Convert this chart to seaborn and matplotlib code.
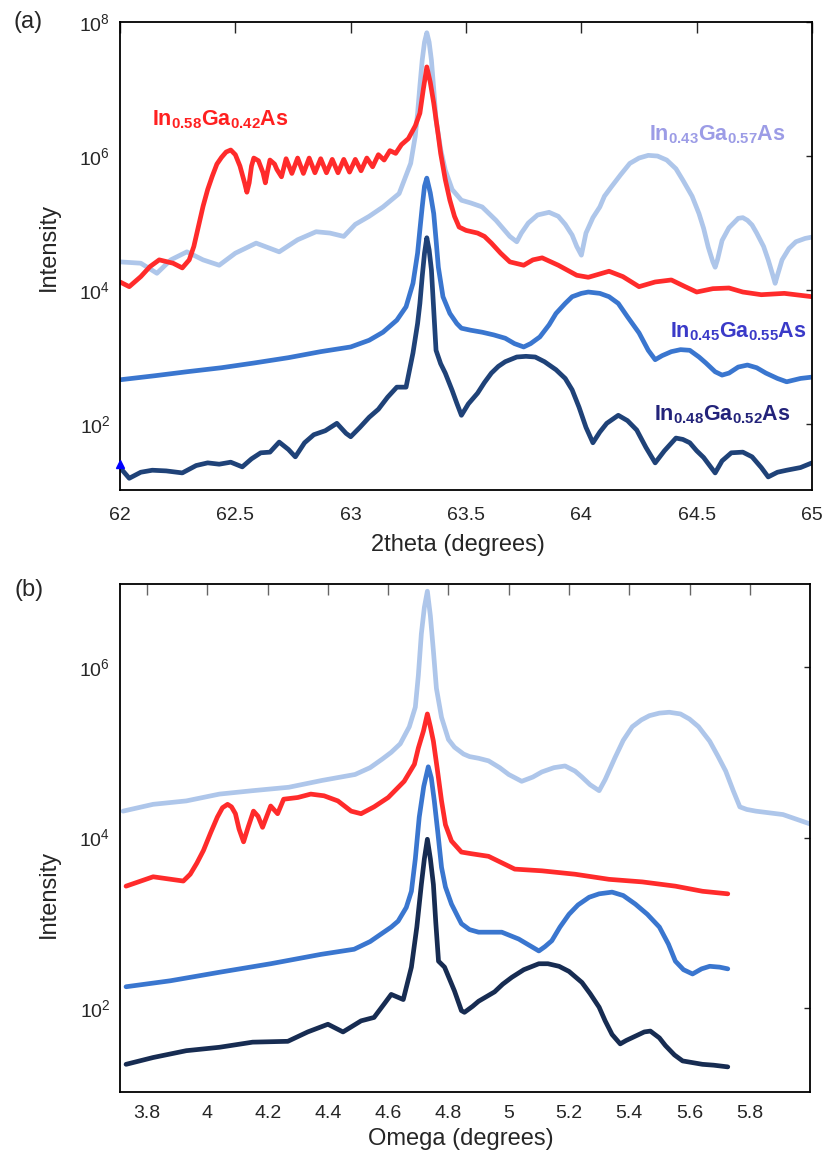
import numpy as np
import matplotlib
matplotlib.use("Agg")
import matplotlib.pyplot as plt
import seaborn as sns
from matplotlib.ticker import FixedLocator, NullLocator

sns.set_style("white")
plt.rcParams['font.family'] = ['Liberation Sans', 'DejaVu Sans']
plt.rcParams['mathtext.fontset'] = 'custom'
plt.rcParams['mathtext.rm'] = 'Liberation Sans'
plt.rcParams['mathtext.bf'] = 'Liberation Sans:bold'

# ---------------- Panel (a): 2theta scans (log10 intensity) ----------------
a_x_043 = [62.00, 62.09, 62.16, 62.22, 62.29, 62.36, 62.43, 62.50, 62.59, 62.69, 62.77, 62.85, 62.91,
           62.97, 63.02, 63.08, 63.14, 63.21, 63.26, 63.28, 63.29, 63.30, 63.31, 63.32, 63.33, 63.34,
           63.35, 63.36, 63.37, 63.39, 63.41, 63.44, 63.48, 63.52, 63.57, 63.60, 63.63, 63.66, 63.69,
           63.72, 63.74, 63.77, 63.81, 63.86, 63.90, 63.93, 63.96, 63.98, 64.00, 64.02, 64.05, 64.08,
           64.10, 64.13, 64.17, 64.21, 64.25, 64.29, 64.33, 64.37, 64.41, 64.44, 64.48, 64.51, 64.53,
           64.55, 64.57, 64.58, 64.59, 64.61, 64.64, 64.68, 64.70, 64.72, 64.74, 64.76, 64.79, 64.81,
           64.83, 64.84, 64.85, 64.87, 64.90, 64.93, 64.97, 65.00]
a_l_043 = [4.42, 4.40, 4.25, 4.45, 4.57, 4.45, 4.37, 4.55, 4.70, 4.57, 4.75, 4.87, 4.85,
           4.80, 4.98, 5.10, 5.24, 5.44, 5.89, 6.30, 6.64, 7.05, 7.43, 7.70, 7.84, 7.70,
           7.43, 7.00, 6.54, 6.10, 5.79, 5.50, 5.34, 5.30, 5.24, 5.14, 5.04, 4.92, 4.80,
           4.72, 4.85, 5.00, 5.12, 5.16, 5.10, 4.98, 4.82, 4.65, 4.52, 4.85, 5.08, 5.24,
           5.40, 5.54, 5.72, 5.89, 5.97, 6.01, 6.00, 5.94, 5.81, 5.64, 5.40, 5.14, 4.92,
           4.64, 4.42, 4.34, 4.45, 4.74, 4.93, 5.07, 5.08, 5.04, 4.97, 4.85, 4.65, 4.45,
           4.22, 4.10, 4.22, 4.45, 4.62, 4.72, 4.77, 4.79]

a_x_058 = [62.00, 62.04, 62.09, 62.13, 62.17, 62.23, 62.27, 62.30, 62.32, 62.34, 62.36, 62.38, 62.40,
           62.42, 62.44, 62.46, 62.48, 62.50, 62.52, 62.54, 62.55, 62.56, 62.57, 62.58, 62.60, 62.62,
           62.63, 62.64, 62.65, 62.67, 62.68, 62.70, 62.72, 62.745, 62.77, 62.795, 62.82, 62.845,
           62.87, 62.895, 62.92, 62.945, 62.97, 62.995, 63.02, 63.045, 63.07, 63.095, 63.12, 63.145,
           63.17, 63.195, 63.22, 63.25, 63.28, 63.30, 63.315, 63.33, 63.345, 63.36, 63.38, 63.39,
           63.41, 63.43, 63.45, 63.47, 63.50, 63.55, 63.58, 63.61, 63.65, 63.69, 63.75, 63.79, 63.83,
           63.90, 63.98, 64.03, 64.12, 64.18, 64.25, 64.32, 64.39, 64.45, 64.50, 64.57, 64.64, 64.70,
           64.78, 64.88, 65.00]
a_l_058 = [4.12, 4.05, 4.20, 4.35, 4.45, 4.40, 4.33, 4.45, 4.65, 4.95, 5.25, 5.50, 5.70,
           5.88, 5.98, 6.06, 6.09, 6.02, 5.85, 5.60, 5.46, 5.60, 5.85, 5.97, 5.93, 5.75,
           5.60, 5.78, 5.94, 5.88, 5.80, 5.69, 5.96, 5.74, 5.97, 5.74, 5.97, 5.75,
           5.96, 5.75, 5.95, 5.75, 5.95, 5.76, 5.95, 5.78, 5.97, 5.84, 6.02, 5.94,
           6.08, 6.04, 6.17, 6.26, 6.45, 6.64, 7.00, 7.33, 7.10, 6.79, 6.30, 6.04,
           5.65, 5.34, 5.10, 4.94, 4.89, 4.85, 4.80, 4.70, 4.55, 4.42, 4.37, 4.45, 4.48,
           4.37, 4.22, 4.19, 4.28, 4.20, 4.05, 4.12, 4.15, 4.05, 3.97, 4.02, 4.03, 3.97,
           3.93, 3.95, 3.90]

a_x_045 = [62.00, 62.15, 62.29, 62.44, 62.58, 62.73, 62.87, 63.00, 63.08, 63.14, 63.20, 63.24, 63.27,
           63.29, 63.30, 63.31, 63.32, 63.33, 63.345, 63.36, 63.37, 63.38, 63.40, 63.43, 63.46, 63.48,
           63.52, 63.57, 63.62, 63.67, 63.71, 63.75, 63.78, 63.82, 63.86, 63.89, 63.93, 63.96, 64.00,
           64.03, 64.08, 64.12, 64.16, 64.20, 64.25, 64.29, 64.32, 64.35, 64.39, 64.43, 64.47, 64.51,
           64.54, 64.58, 64.61, 64.64, 64.68, 64.72, 64.76, 64.80, 64.85, 64.89, 64.95, 65.00]
a_l_045 = [2.66, 2.72, 2.78, 2.84, 2.91, 2.99, 3.08, 3.15, 3.25, 3.37, 3.55, 3.75, 4.10,
           4.55, 4.90, 5.24, 5.55, 5.67, 5.45, 5.14, 4.75, 4.34, 3.90, 3.65, 3.50, 3.43,
           3.40, 3.37, 3.33, 3.28, 3.20, 3.15, 3.20, 3.30, 3.48, 3.65, 3.80, 3.90, 3.95,
           3.97, 3.95, 3.90, 3.80, 3.60, 3.36, 3.10, 2.96, 3.02, 3.08, 3.11, 3.10, 3.00,
           2.91, 2.78, 2.73, 2.76, 2.85, 2.88, 2.84, 2.76, 2.68, 2.63, 2.68, 2.70]

a_x_048 = [62.01, 62.04, 62.09, 62.14, 62.20, 62.27, 62.33, 62.38, 62.43, 62.48, 62.53, 62.57, 62.61,
           62.65, 62.69, 62.73, 62.76, 62.80, 62.84, 62.89, 62.94, 62.98, 63.00, 63.04, 63.08, 63.12,
           63.16, 63.20, 63.24, 63.27, 63.29, 63.30, 63.31, 63.32, 63.33, 63.34, 63.35, 63.36, 63.37,
           63.39, 63.41, 63.44, 63.46, 63.48, 63.51, 63.55, 63.58, 63.61, 63.64, 63.67, 63.72, 63.76,
           63.80, 63.84, 63.89, 63.93, 63.96, 63.99, 64.02, 64.05, 64.08, 64.11, 64.16, 64.20, 64.24,
           64.28, 64.32, 64.36, 64.41, 64.44, 64.47, 64.50, 64.53, 64.58, 64.61, 64.65, 64.70, 64.74,
           64.78, 64.81, 64.85, 64.89, 64.95, 65.00]
a_l_048 = [1.31, 1.19, 1.28, 1.31, 1.30, 1.27, 1.38, 1.42, 1.40, 1.43, 1.36, 1.48, 1.57,
           1.58, 1.73, 1.62, 1.51, 1.72, 1.84, 1.90, 2.01, 1.86, 1.81, 1.95, 2.10, 2.22,
           2.40, 2.55, 2.55, 3.06, 3.50, 3.80, 4.20, 4.55, 4.78, 4.60, 4.30, 3.70, 3.10,
           2.90, 2.76, 2.50, 2.31, 2.13, 2.30, 2.46, 2.62, 2.76, 2.86, 2.93, 3.00, 3.01,
           3.00, 2.93, 2.81, 2.68, 2.51, 2.25, 1.95, 1.72, 1.88, 2.01, 2.13, 2.05, 1.91,
           1.65, 1.42, 1.60, 1.79, 1.77, 1.72, 1.60, 1.50, 1.27, 1.45, 1.57, 1.58, 1.51,
           1.35, 1.21, 1.28, 1.31, 1.35, 1.42]

# ---------------- Panel (b): omega scans (log10 intensity) ----------------
b_x_043 = [3.72, 3.82, 3.93, 4.04, 4.15, 4.27, 4.38, 4.49, 4.54, 4.58, 4.61, 4.64, 4.67, 4.69, 4.70,
           4.71, 4.72, 4.73, 4.74, 4.75, 4.76, 4.777, 4.80, 4.82, 4.85, 4.87, 4.90, 4.933, 4.97, 5.00,
           5.043, 5.08, 5.11, 5.15, 5.187, 5.22, 5.243, 5.27, 5.30, 5.32, 5.353, 5.38, 5.41, 5.44,
           5.467, 5.50, 5.533, 5.57, 5.60, 5.63, 5.667, 5.695, 5.72, 5.745, 5.767, 5.79, 5.82, 5.91,
           6.00]
b_l_043 = [4.31, 4.39, 4.43, 4.51, 4.55, 4.59, 4.67, 4.74, 4.82, 4.92, 5.00, 5.10, 5.30, 5.53, 5.90,
           6.39, 6.70, 6.89, 6.60, 6.19, 5.75, 5.41, 5.15, 5.06, 4.98, 4.95, 4.93, 4.90, 4.82, 4.74,
           4.66, 4.71, 4.77, 4.82, 4.84, 4.78, 4.71, 4.62, 4.55, 4.68, 4.94, 5.14, 5.30, 5.38,
           5.43, 5.46, 5.47, 5.45, 5.39, 5.30, 5.13, 4.95, 4.78, 4.55, 4.36, 4.33, 4.31, 4.27,
           4.16]

b_x_058 = [3.73, 3.82, 3.92, 3.943, 3.965, 3.987, 4.01, 4.033, 4.05, 4.067, 4.08, 4.093, 4.105, 4.12,
           4.135, 4.153, 4.168, 4.183, 4.197, 4.21, 4.233, 4.253, 4.30, 4.343, 4.387, 4.433, 4.477,
           4.51, 4.553, 4.60, 4.653, 4.687, 4.70, 4.717, 4.73, 4.74, 4.75, 4.763, 4.777, 4.79, 4.81,
           4.843, 4.877, 4.933, 5.02, 5.11, 5.22, 5.333, 5.443, 5.553, 5.643, 5.727]
b_l_058 = [3.43, 3.54, 3.49, 3.57, 3.70, 3.85, 4.05, 4.24, 4.35, 4.39, 4.36, 4.28, 4.10, 3.95,
           4.12, 4.31, 4.25, 4.12, 4.25, 4.37, 4.28, 4.45, 4.47, 4.51, 4.49, 4.43, 4.31,
           4.28, 4.36, 4.47, 4.66, 4.86, 5.05, 5.25, 5.45, 5.30, 5.13, 4.80, 4.43, 4.15, 3.96,
           3.83, 3.81, 3.78, 3.63, 3.61, 3.57, 3.51, 3.48, 3.43, 3.37, 3.34]

b_x_045 = [3.73, 3.877, 4.04, 4.21, 4.377, 4.487, 4.54, 4.577, 4.61, 4.633, 4.66, 4.677, 4.69, 4.703,
           4.718, 4.733, 4.743, 4.753, 4.765, 4.777, 4.79, 4.81, 4.83, 4.843, 4.87, 4.90, 4.977, 5.033,
           5.10, 5.12, 5.143, 5.17, 5.20, 5.23, 5.267, 5.30, 5.343, 5.38, 5.42, 5.46, 5.50, 5.53,
           5.553, 5.58, 5.61, 5.64, 5.667, 5.70, 5.727]
b_l_045 = [2.25, 2.32, 2.42, 2.52, 2.63, 2.69, 2.78, 2.87, 2.95, 3.02, 3.18, 3.37, 3.75, 4.24,
           4.60, 4.83, 4.70, 4.43, 4.05, 3.65, 3.42, 3.22, 3.08, 2.99, 2.92, 2.89, 2.89, 2.81,
           2.67, 2.72, 2.79, 2.95, 3.10, 3.21, 3.30, 3.34, 3.36, 3.32, 3.22, 3.10, 2.95, 2.75,
           2.55, 2.45, 2.40, 2.46, 2.49, 2.48, 2.46]

b_x_048 = [3.73, 3.82, 3.93, 4.04, 4.15, 4.267, 4.333, 4.40, 4.45, 4.51, 4.553, 4.587, 4.61, 4.65,
           4.677, 4.695, 4.71, 4.72, 4.73, 4.74, 4.75, 4.758, 4.767, 4.787, 4.82, 4.843, 4.853, 4.88,
           4.90, 4.953, 4.98, 5.01, 5.05, 5.10, 5.13, 5.167, 5.20, 5.243, 5.27, 5.30, 5.32, 5.343,
           5.37, 5.39, 5.42, 5.45, 5.47, 5.50, 5.52, 5.55, 5.577, 5.61, 5.643, 5.68, 5.727]
b_l_048 = [1.34, 1.42, 1.50, 1.54, 1.60, 1.61, 1.72, 1.81, 1.72, 1.85, 1.89, 2.05, 2.16, 2.10,
           2.48, 2.95, 3.45, 3.75, 3.98, 3.75, 3.45, 3.00, 2.55, 2.48, 2.20, 1.97, 1.95, 2.02,
           2.08, 2.19, 2.28, 2.36, 2.45, 2.52, 2.52, 2.49, 2.43, 2.30, 2.17, 2.01, 1.85, 1.69,
           1.58, 1.62, 1.67, 1.72, 1.73, 1.65, 1.56, 1.45, 1.38, 1.36, 1.34, 1.33, 1.31]

marker_x = [62.0]
marker_l = [1.40]

a_xticks = [62, 62.5, 63, 63.5, 64, 64.5, 65]
a_xticklabels = ["62", "62.5", "63", "63.5", "64", "64.5", "65"]
b_xticks = [3.8, 4.0, 4.2, 4.4, 4.6, 4.8, 5.0, 5.2, 5.4, 5.6, 5.8]
b_xticklabels = ["3.8", "4", "4.2", "4.4", "4.6", "4.8", "5", "5.2", "5.4", "5.6", "5.8"]
a_yticks = [1e2, 1e4, 1e6, 1e8]
b_yticks = [1e2, 1e4, 1e6]

labels = [r"$\mathbf{In_{0.58}Ga_{0.42}As}$", r"$\mathbf{In_{0.43}Ga_{0.57}As}$",
          r"$\mathbf{In_{0.45}Ga_{0.55}As}$", r"$\mathbf{In_{0.48}Ga_{0.52}As}$"]

C_LIGHT = "#AEC6EA"
C_RED = "#FF2B2B"
C_MID = "#3A76CF"
C_NAVY_A = "#1F4278"
C_NAVY_B = "#172C52"

LW = 3.4

fig = plt.figure(figsize=(8.26, 11.54), dpi=100)
ax1 = fig.add_axes([0.1453, 0.5754, 0.8378, 0.4055])
ax2 = fig.add_axes([0.1453, 0.0537, 0.8354, 0.4402])


def draw(ax, xs, ls, color):
    sns.lineplot(x=np.array(xs), y=10 ** np.array(ls), ax=ax, color=color, lw=LW,
                 estimator=None, sort=False, solid_joinstyle="round", solid_capstyle="round")


draw(ax1, a_x_043, a_l_043, C_LIGHT)
draw(ax1, a_x_058, a_l_058, C_RED)
draw(ax1, a_x_045, a_l_045, C_MID)
draw(ax1, a_x_048, a_l_048, C_NAVY_A)
ax1.plot(marker_x, 10 ** np.array(marker_l), marker="^", color="#0000FF", ms=6, ls="none",
         clip_on=False, zorder=5)

draw(ax2, b_x_043, b_l_043, C_LIGHT)
draw(ax2, b_x_058, b_l_058, C_RED)
draw(ax2, b_x_045, b_l_045, C_MID)
draw(ax2, b_x_048, b_l_048, C_NAVY_B)

for ax in (ax1, ax2):
    ax.set_yscale("log")
    ax.yaxis.set_minor_locator(NullLocator())
    ax.xaxis.set_minor_locator(NullLocator())
    for s in ax.spines.values():
        s.set_linewidth(1.3)
        s.set_color("black")
    ax.tick_params(axis="both", direction="in", top=True, right=True, labelsize=14, width=1.0)
    ax.tick_params(axis="x", length=8)
    ax.tick_params(axis="y", length=4.5, pad=7)

ax1.tick_params(axis="x", pad=12)
ax2.tick_params(axis="x", pad=9, color="#666666")

ax1.set_xlim(62, 65)
ax1.set_ylim(10 ** 1.015, 1e8)
ax1.yaxis.set_major_locator(FixedLocator(a_yticks))
ax1.set_xticks(a_xticks)
ax1.set_xticklabels(a_xticklabels)
ax1.set_xlabel("2theta (degrees)", fontsize=17)
ax1.set_ylabel("Intensity", fontsize=17)
ax1.xaxis.set_label_coords(0.488, -0.094)
ax1.yaxis.set_label_coords(-0.087, 0.52)

ax2.set_xlim(3.71, 6.0)
ax2.set_ylim(10 ** 1.015, 10 ** 6.974)
ax2.yaxis.set_major_locator(FixedLocator(b_yticks))
ax2.set_xticks(b_xticks)
ax2.set_xticklabels(b_xticklabels)
ax2.set_xlabel("Omega (degrees)", fontsize=17)
ax2.set_ylabel("Intensity", fontsize=17)
ax2.xaxis.set_label_coords(0.494, -0.071)
ax2.yaxis.set_label_coords(-0.087, 0.39)

ax1.text(62.139, 10 ** 6.46, labels[0], color="#FF2020", fontsize=15.5, va="baseline", ha="left")
ax1.text(64.294, 10 ** 6.24, labels[1], color="#9C9CE6", fontsize=15.5, va="baseline", ha="left")
ax1.text(64.384, 10 ** 3.30, labels[2], color="#3A3AC8", fontsize=15.5, va="baseline", ha="left")
ax1.text(64.316, 10 ** 2.06, labels[3], color="#23237A", fontsize=15.5, va="baseline", ha="left")

fig.text(28 / 826, 1 - 22 / 1154, "(a)", fontsize=17, ha="center", va="center")
fig.text(29 / 826, 1 - 590 / 1154, "(b)", fontsize=17, ha="center", va="center")

fig.savefig("out.png", dpi=100)
